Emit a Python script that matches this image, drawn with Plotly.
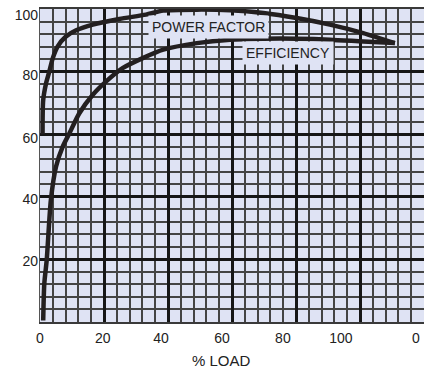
import plotly.graph_objects as go

# ---- data ----
load_pf = [0.8, 1.0, 1.9, 2.9, 4.0, 5.5, 8.1, 11.3, 16.5, 24.8, 33.1, 38.5, 49.0, 59.4, 69.8, 80.2, 90.6, 101.0, 110.9]
power_factor = [60.0, 70.9, 76.3, 80.0, 84.3, 88.0, 91.2, 93.2, 95.0, 96.8, 98.2, 99.5, 99.8, 99.6, 98.7, 97.1, 95.0, 92.3, 89.1]

load_eff = [1.0, 1.35, 2.1, 3.4, 5.0, 7.1, 9.2, 12.3, 16.5, 20.6, 25.8, 32.1, 38.5, 49.0, 59.4, 69.8, 80.2, 90.6, 101.0, 110.9]
efficiency = [0.5, 12.3, 19.8, 39.0, 49.6, 56.0, 60.3, 66.7, 72.6, 76.8, 81.1, 84.3, 87.0, 89.1, 90.2, 90.5, 90.5, 90.2, 89.6, 89.1]

x_major = [20, 40, 60, 80, 100]
y_major = [20, 40, 60, 80]
x_tick_labels = ["0", "20", "40", "60", "80", "100", "0"]
x_tick_pos = [0.0, 19.6, 37.8, 56.9, 75.9, 94.0, 117.5]
y_tick_labels = ["20", "40", "60", "80", "100"]
y_tick_pos = [19.4, 39.3, 58.8, 79.0, 98.0]

series_labels = ["POWER FACTOR", "EFFICIENCY"]
label_pos = [(52.8, 94.3), (77.6, 85.8)]
x_title = "% LOAD"

BG = "#dfe3f4"
INK = "#231f20"
FONT = "Liberation Sans, Arial, sans-serif"

fig = go.Figure()
fig.add_trace(go.Scatter(x=load_pf, y=power_factor, mode="lines",
                         line=dict(color=INK, width=4.5, shape="spline", smoothing=0.7),
                         name=series_labels[0], hoverinfo="skip"))
fig.add_trace(go.Scatter(x=load_eff, y=efficiency, mode="lines",
                         line=dict(color=INK, width=4.5, shape="spline", smoothing=0.7),
                         name=series_labels[1], hoverinfo="skip"))
# empty trace to host the label-only overlay axes
fig.add_trace(go.Scatter(x=[], y=[], xaxis="x2", yaxis="y2", showlegend=False, hoverinfo="skip"))

grid_common = dict(showgrid=True, gridcolor="#161616", gridwidth=3, zeroline=False,
                   showticklabels=False, ticks="", automargin=False,
                   minor=dict(tickmode="linear", tick0=0, dtick=4, showgrid=True,
                              gridcolor="#444444", gridwidth=1.5))

fig.update_layout(
    width=424, height=368,
    margin=dict(l=40, r=0, t=9, b=46, autoexpand=False),
    plot_bgcolor=BG, paper_bgcolor="white",
    showlegend=False,
    font=dict(family=FONT, size=14, color="#222"),
    xaxis=dict(range=[0, 120], tickmode="array", tickvals=x_major,
               showline=True, linecolor="#3a3a3a", linewidth=1.5, mirror=True, **grid_common),
    yaxis=dict(range=[0, 100], tickmode="array", tickvals=y_major,
               showline=True, linecolor="#555555", linewidth=1.2, **grid_common),
    xaxis2=dict(overlaying="x", anchor="y", side="bottom", range=[0, 120], automargin=False,
                tickmode="array", tickvals=x_tick_pos, ticktext=x_tick_labels,
                showgrid=False, zeroline=False, showline=False, ticks="",
                ticklabelstandoff=6, tickfont=dict(size=14, color="#222")),
    yaxis2=dict(overlaying="y", anchor="x", side="left", range=[0, 100], automargin=False,
                tickmode="array", tickvals=y_tick_pos, ticktext=y_tick_labels,
                showgrid=False, zeroline=False, showline=False, ticks="",
                ticklabelstandoff=1, tickfont=dict(size=14, color="#222")),
)

for text, (lx, ly) in zip(series_labels, label_pos):
    fig.add_annotation(x=lx, y=ly, xref="x", yref="y", text=text, showarrow=False,
                       font=dict(size=14, color="#222", family=FONT),
                       bgcolor=BG, borderpad=3)

fig.add_annotation(x=0.473, y=-0.123, xref="paper", yref="paper", text=x_title,
                   showarrow=False, yanchor="middle",
                   font=dict(size=15, color="#222", family=FONT))

fig.write_html("out.html", config={"displayModeBar": False})

# remove the default page margin so the figure sits at the window's top-left corner
with open("out.html", "r", encoding="utf-8") as f:
    html = f.read()
html = html.replace("<head>", "<head><style>html,body{margin:0;padding:0;overflow:hidden;}</style>", 1)
with open("out.html", "w", encoding="utf-8") as f:
    f.write(html)
